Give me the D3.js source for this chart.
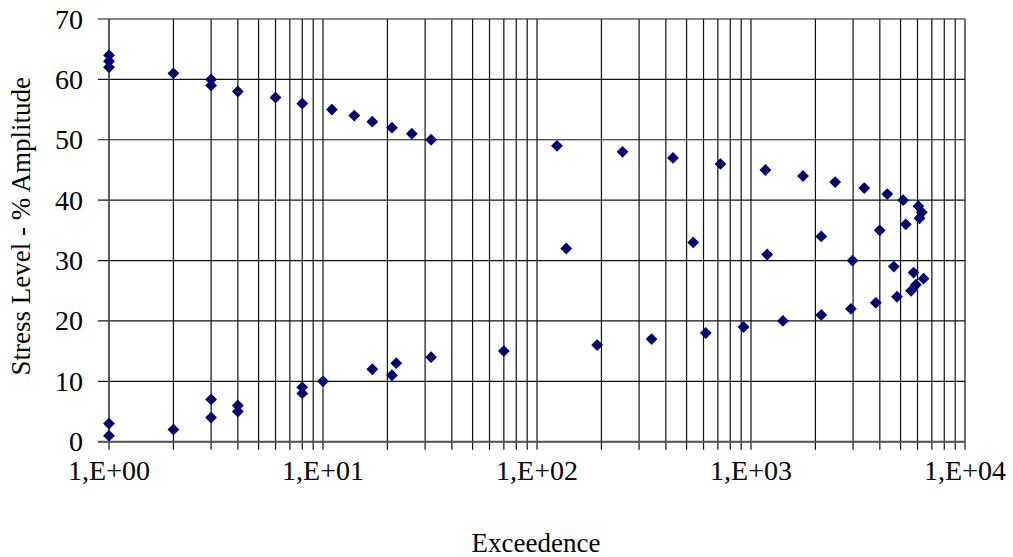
<!DOCTYPE html>
<html>
<head>
<meta charset="utf-8">
<script src="https://cdn.jsdelivr.net/npm/d3@7"></script>
<style>
  html, body { margin: 0; padding: 0; background: #fff; }
  svg { display: block; }
  text { font-family: "Liberation Serif", "Times New Roman", serif; fill: #000; }
</style>
</head>
<body>
<svg id="chart" width="1013" height="557"></svg>
<script>
// Stress level (% amplitude) for each point
const stressLevel = [64, 63, 62, 61, 60, 59, 58, 57, 56, 55, 54, 53, 52, 51, 50,
  49, 48, 47, 46, 45, 44, 43, 42, 41, 40, 39, 38, 37, 36, 35, 34, 33, 32, 31, 30,
  29, 28, 27, 26, 25, 24, 23, 22, 21, 20, 19, 18, 17, 16, 15, 14, 13, 12, 11, 10,
  9, 8, 7, 6, 5, 4, 3, 2, 1];
// Exceedence (cycles)
const exceedence = [1, 1, 1, 2, 3, 3, 4, 6, 8, 11, 14, 17, 21, 26, 32,
  124, 251, 432, 720, 1168, 1750, 2473, 3383, 4333, 5140, 6055, 6285, 6130, 5290, 3995, 2130, 537, 137, 1190, 2980,
  4650, 5750, 6400, 5900, 5600, 4810, 3830, 2930, 2130, 1410, 923, 615, 343, 191, 70, 32, 22, 17, 21, 10,
  8, 8, 3, 4, 4, 3, 1, 2, 1];

const xTickValues = [1, 10, 100, 1000, 10000];
const xTickLabels = ["1,E+00", "1,E+01", "1,E+02", "1,E+03", "1,E+04"];
const yTickValues = [0, 10, 20, 30, 40, 50, 60, 70];

const xTitle = "Exceedence";
const yTitle = "Stress Level - % Amplitude";

(function () {
const svg = d3.select("#chart");
const pLeft = 109, pRight = 965, pTop = 19, pBottom = 441.7;

const x = d3.scaleLog().domain([1, 10000]).range([pLeft, pRight]);
const y = d3.scaleLinear().domain([0, 70]).range([pBottom, pTop]);

// minor/major vertical grid values
const gridVals = [];
for (let e = 0; e < 4; e++) for (let m = 1; m <= 9; m++) gridVals.push(m * Math.pow(10, e));
gridVals.push(10000);

const grid = svg.append("g");
// horizontal gridlines + y ticks (extend left of axis)
grid.selectAll("line.h").data(yTickValues).join("line")
  .attr("class", "h")
  .attr("x1", pLeft - 11).attr("x2", pRight)
  .attr("y1", d => y(d)).attr("y2", d => y(d))
  .attr("stroke", "#111").attr("stroke-width", 1.2);
// vertical gridlines + x ticks (extend below axis)
grid.selectAll("line.v").data(gridVals).join("line")
  .attr("class", "v")
  .attr("x1", d => x(d)).attr("x2", d => x(d))
  .attr("y1", pTop).attr("y2", pBottom + 8)
  .attr("stroke", "#111").attr("stroke-width", 1.2);

// axis lines
svg.append("line").attr("x1", pLeft).attr("x2", pLeft).attr("y1", pTop).attr("y2", pBottom)
  .attr("stroke", "#555").attr("stroke-width", 1.5);
svg.append("line").attr("x1", pLeft - 11).attr("x2", pRight).attr("y1", pBottom).attr("y2", pBottom)
  .attr("stroke", "#555").attr("stroke-width", 2);

// y tick labels
svg.append("g").selectAll("text").data(yTickValues).join("text")
  .attr("x", 83).attr("y", d => y(d)).attr("dy", "0.34em")
  .attr("text-anchor", "end").style("font-size", "28px")
  .text(d => d);

// x tick labels
svg.append("g").selectAll("text").data(xTickValues).join("text")
  .attr("x", d => x(d)).attr("y", 480)
  .attr("text-anchor", "middle").style("font-size", "28px")
  .text((d, i) => xTickLabels[i]);

// axis titles
svg.append("text").attr("x", (pLeft + pRight) / 2 - 1).attr("y", 552)
  .attr("text-anchor", "middle").style("font-size", "27px").text(xTitle);
svg.append("text").attr("transform", `translate(30,${(pTop + pBottom) / 2 - 4}) rotate(-90)`)
  .attr("text-anchor", "middle").style("font-size", "27px").text(yTitle);

// markers
const pts = stressLevel.map((s, i) => ({ s, e: exceedence[i] }));
const sym = d3.symbol().type(d3.symbolSquare).size(70);
svg.append("g").selectAll("path").data(pts).join("path")
  .attr("d", sym)
  .attr("transform", d => `translate(${x(d.e)},${y(d.s)}) rotate(45)`)
  .attr("fill", "#000070");
})();
</script>
</body>
</html>
